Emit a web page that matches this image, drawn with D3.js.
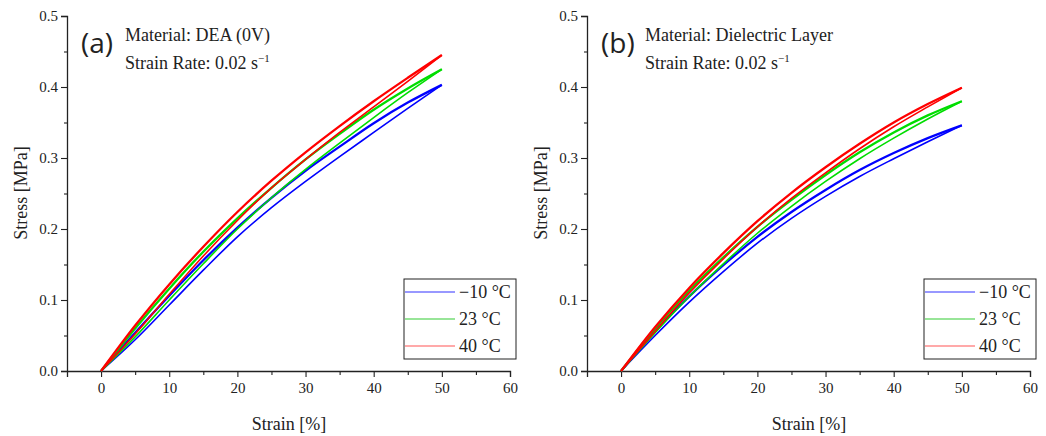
<!DOCTYPE html>
<html>
<head>
<meta charset="utf-8">
<script src="https://cdn.jsdelivr.net/npm/d3@7"></script>
<style>
  body { margin: 0; background: #fff; }
  svg text { font-family: "Liberation Serif", "DejaVu Serif", serif !important; }
  svg text.tag { font-family: "Open Sans", "Noto Sans", sans-serif !important; }
</style>
</head>
<body>
<svg id="chart" width="1046" height="436"></svg>
<script>
// strain values where the curves were read [%]
const strain = [0, 5, 10, 15, 20, 25, 30, 35, 40, 45, 50];

// (a) DEA (0V), stress [MPa], loading and unloading
const deaM10Load   = [0, 0.054, 0.106, 0.156, 0.202, 0.244, 0.282, 0.316, 0.349, 0.378, 0.403];
const deaM10Unload = [0, 0.044, 0.093, 0.142, 0.189, 0.230, 0.267, 0.302, 0.336, 0.370, 0.403];
const dea23Load    = [0, 0.060, 0.116, 0.168, 0.215, 0.258, 0.298, 0.334, 0.368, 0.398, 0.425];
const dea23Unload  = [0, 0.048, 0.100, 0.151, 0.200, 0.244, 0.284, 0.321, 0.357, 0.392, 0.425];
const dea40Load    = [0, 0.064, 0.122, 0.175, 0.224, 0.268, 0.308, 0.345, 0.380, 0.413, 0.445];
const dea40Unload  = [0, 0.052, 0.108, 0.162, 0.212, 0.258, 0.298, 0.336, 0.372, 0.408, 0.445];

// (b) Dielectric layer
const dlM10Load   = [0, 0.056, 0.105, 0.149, 0.189, 0.224, 0.255, 0.283, 0.307, 0.328, 0.346];
const dlM10Unload = [0, 0.050, 0.097, 0.140, 0.180, 0.215, 0.246, 0.274, 0.299, 0.323, 0.346];
const dl23Load    = [0, 0.060, 0.113, 0.160, 0.203, 0.241, 0.276, 0.308, 0.336, 0.360, 0.380];
const dl23Unload  = [0, 0.054, 0.105, 0.151, 0.194, 0.232, 0.267, 0.299, 0.328, 0.355, 0.380];
const dl40Load    = [0, 0.062, 0.117, 0.166, 0.211, 0.251, 0.287, 0.320, 0.350, 0.376, 0.399];
const dl40Unload  = [0, 0.056, 0.110, 0.158, 0.203, 0.243, 0.279, 0.313, 0.344, 0.372, 0.399];

const tempLabels = ["\u221210 \u00b0C", "23 \u00b0C", "40 \u00b0C"];
const xTicks = [0, 10, 20, 30, 40, 50, 60];
const yTicks = [0, 0.1, 0.2, 0.3, 0.4, 0.5];

const colors = ["#0000ff", "#00dd00", "#ff0000"];
const legendColors = ["#3333ff", "#33cc33", "#ff5555"];

const svg = d3.select("#chart");

function drawPanel(offsetX, tag, material, series) {
  const g = svg.append("g").attr("transform", `translate(${offsetX},0)`);

  const x = d3.scaleLinear().domain([-5, 60]).range([67, 510]);
  const y = d3.scaleLinear().domain([0, 0.5]).range([371, 16]);

  // x axis
  const xAxis = g.append("g").attr("transform", "translate(0,371)");
  xAxis.call(d3.axisBottom(x).tickValues(xTicks).tickSize(6).tickPadding(5).tickFormat(d3.format("d")));
  xAxis.append("g").call(d3.axisBottom(x).tickValues(d3.range(5, 60, 10)).tickSize(4).tickFormat(""))
    .select(".domain").remove();

  // y axis
  const yAxis = g.append("g").attr("transform", "translate(67,0)");
  yAxis.call(d3.axisLeft(y).tickValues(yTicks).tickSize(6).tickPadding(3).tickFormat(d3.format(".1f")));
  yAxis.append("g").call(d3.axisLeft(y).tickValues([0.05, 0.15, 0.25, 0.35, 0.45]).tickSize(3).tickFormat(""))
    .select(".domain").remove();

  g.selectAll(".domain").attr("stroke", "#222").attr("stroke-width", 1.3);
  g.selectAll(".tick line").attr("stroke", "#222").attr("stroke-width", 1.1);
  g.selectAll(".tick text").attr("font-size", 15).attr("fill", "#222");

  // axis titles
  g.append("text").attr("x", 289).attr("y", 430).attr("text-anchor", "middle")
    .attr("font-size", 18).attr("fill", "#222").text("Strain [%]");
  g.append("text").attr("transform", "translate(27,193) rotate(-90)").attr("text-anchor", "middle")
    .attr("font-size", 18).attr("fill", "#222").text("Stress [MPa]");

  // curves
  const line = d3.line()
    .x((d, i) => x(strain[i]))
    .y(d => y(d))
    .curve(d3.curveMonotoneX);

  series.forEach((s, k) => {
    g.append("path").datum(s.unload).attr("d", line)
      .attr("fill", "none").attr("stroke", colors[k]).attr("stroke-width", 1.6);
    g.append("path").datum(s.load).attr("d", line)
      .attr("fill", "none").attr("stroke", colors[k]).attr("stroke-width", 2.3);
  });

  // annotation
  g.append("text").attr("class", "tag").attr("x", 81).attr("y", 53)
    .attr("font-size", 28).attr("fill", "#222").text(tag);
  g.append("text").attr("x", 125).attr("y", 41).attr("font-size", 18).attr("fill", "#222").text(material);
  const sr = g.append("text").attr("x", 125).attr("y", 69).attr("font-size", 18).attr("fill", "#222");
  sr.append("tspan").text("Strain Rate: 0.02 s");
  sr.append("tspan").attr("dy", -7).attr("font-size", 11).text("\u22121");

  // legend
  const lg = g.append("g").attr("transform", "translate(404,279)");
  lg.append("rect").attr("width", 112).attr("height", 80)
    .attr("fill", "#fff").attr("stroke", "#222").attr("stroke-width", 1);
  tempLabels.forEach((t, k) => {
    const yy = 13 + k * 27;
    lg.append("line").attr("x1", 1).attr("x2", 51).attr("y1", yy).attr("y2", yy)
      .attr("stroke", legendColors[k]).attr("stroke-width", 1.2);
    lg.append("text").attr("x", 55).attr("y", yy + 6).attr("font-size", 18).attr("fill", "#222").text(t);
  });
}

drawPanel(0, "(a)", "Material: DEA (0V)", [
  { load: deaM10Load, unload: deaM10Unload },
  { load: dea23Load, unload: dea23Unload },
  { load: dea40Load, unload: dea40Unload }
]);

drawPanel(520, "(b)", "Material: Dielectric Layer", [
  { load: dlM10Load, unload: dlM10Unload },
  { load: dl23Load, unload: dl23Unload },
  { load: dl40Load, unload: dl40Unload }
]);
</script>
</body>
</html>
